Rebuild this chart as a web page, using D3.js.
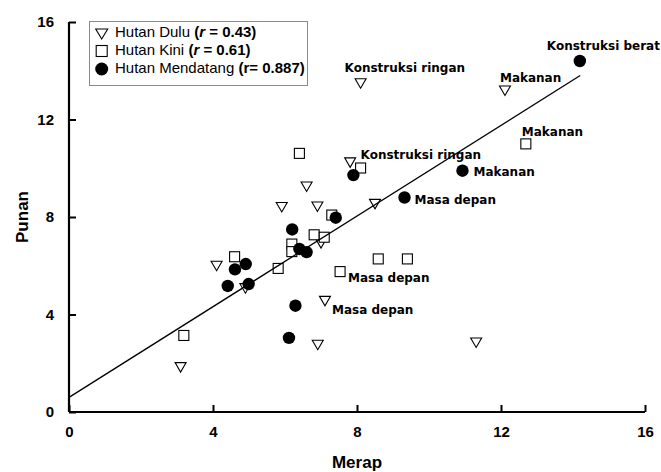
<!DOCTYPE html>
<html>
<head>
<meta charset="utf-8">
<script src="https://cdn.jsdelivr.net/npm/d3@7"></script>
<style>
  html, body { margin: 0; padding: 0; background: #fff; }
  svg { display: block; }
</style>
</head>
<body>
<svg id="chart" width="661" height="472"></svg>
<script>
// ---------------- DATA ----------------
// Hutan Dulu (open down-triangles): [Merap, Punan]
const duluPoints = [
  [3.10, 1.83], [4.10, 5.99], [4.90, 5.07], [5.91, 8.40], [6.60, 9.24],
  [6.90, 8.42], [7.00, 6.92], [7.81, 10.23], [8.10, 13.48], [8.50, 8.53],
  [7.11, 4.55], [6.91, 2.75], [11.31, 2.84], [12.11, 13.18]
];
// Hutan Kini (open squares)
const kiniPoints = [
  [3.19, 3.14], [4.60, 6.37], [5.81, 5.89], [6.19, 6.89], [6.19, 6.58],
  [6.40, 10.61], [6.81, 7.27], [7.09, 7.17], [7.30, 8.08], [8.10, 10.01],
  [7.53, 5.76], [8.59, 6.28], [9.40, 6.28], [12.69, 11.00]
];
// Hutan Mendatang (filled circles)
const mendatangPoints = [
  [14.19, 14.40], [7.90, 9.72], [7.41, 7.97], [9.32, 8.80], [10.93, 9.90],
  [6.20, 7.49], [6.40, 6.69], [6.60, 6.56], [4.91, 6.07], [4.61, 5.85],
  [4.41, 5.17], [4.99, 5.25], [6.29, 4.36], [6.11, 3.04]
];
// Point annotations: [series, point index, text]
const annotations = [
  ["mendatang", 0, "Konstruksi berat"],
  ["dulu", 8, "Konstruksi ringan"],
  ["dulu", 13, "Makanan"],
  ["kini", 13, "Makanan"],
  ["kini", 9, "Konstruksi ringan"],
  ["mendatang", 4, "Makanan"],
  ["mendatang", 3, "Masa depan"],
  ["kini", 10, "Masa depan"],
  ["dulu", 10, "Masa depan"]
];
// Regression line (Hutan Mendatang): [intercept, slope] and x-range
const fitCoef = [0.6, 0.93];
const fitRange = [0, 14.2];
// Axes
const xTicks = [0, 4, 8, 12, 16];
const yTicks = [0, 4, 8, 12, 16];
const xTitle = "Merap";
const yTitle = "Punan";
// Legend
const legendNames = ["Hutan Dulu ", "Hutan Kini ", "Hutan Mendatang "];
const legendStats = [["(", "r", " = 0.43)"], ["(", "r", " = 0.61)"], ["(", "r", "= 0.887)"]];
const legendItalicR = [true, true, false];

// ---------------- STYLE / LAYOUT ----------------
const labelOffsets = [
  [-33, -11], [-16, -11], [-5, -9], [-4, -8], [0, -9],
  [11, 5], [10, 6], [8, 10], [7, 13]
];

const svg = d3.select("#chart");
const x = d3.scaleLinear().domain([0, 16]).range([69, 645]);
const y = d3.scaleLinear().domain([0, 16]).range([412, 22]);

const tickFont = "'Liberation Sans', Arial, sans-serif";
const annFont = "'DejaVu Sans', Verdana, sans-serif";

// Axes
const xAxis = d3.axisBottom(x).tickValues(xTicks).tickSize(-7).tickPadding(14).tickFormat(d3.format("d"));
const yAxis = d3.axisLeft(y).tickValues(yTicks).tickSize(-7).tickPadding(15).tickFormat(d3.format("d"));

const gx = svg.append("g").attr("transform", `translate(0,${y(0)})`).call(xAxis);
const gy = svg.append("g").attr("transform", `translate(${x(0)},0)`).call(yAxis);
[gx, gy].forEach(g => {
  g.select(".domain").attr("stroke", "#000").attr("stroke-width", 2.2);
  g.selectAll(".tick line").attr("stroke", "#000").attr("stroke-width", 2);
  g.selectAll(".tick text")
    .attr("fill", "#000")
    .style("font-family", tickFont)
    .style("font-weight", "bold")
    .style("font-size", "15px");
});
gx.select(".domain").attr("d", `M${x(0)},0H${x(16)}`);
gy.select(".domain").attr("d", `M0,${y(0)}V${y(16)}`);

// Axis titles
svg.append("text")
  .attr("x", (x(0) + x(16)) / 2).attr("y", 468)
  .attr("text-anchor", "middle")
  .style("font-family", tickFont).style("font-weight", "bold").style("font-size", "17px")
  .text(xTitle);
svg.append("text")
  .attr("transform", `translate(28,${(y(0) + y(16)) / 2}) rotate(-90)`)
  .attr("text-anchor", "middle")
  .style("font-family", tickFont).style("font-weight", "bold").style("font-size", "17px")
  .text(yTitle);

// Marker drawing helpers
const triH = 9.5, triW = 11, sq = 10, circR = 6.2;
function triPath(cx, cy, w, h) {
  return `M${cx - w / 2},${cy - h / 2}L${cx + w / 2},${cy - h / 2}L${cx},${cy + h / 2}Z`;
}

const plot = svg.append("g");
plot.selectAll("path.dulu").data(duluPoints).join("path")
  .attr("class", "dulu")
  .attr("d", d => triPath(x(d[0]), y(d[1]), triW, triH))
  .attr("fill", "#fff").attr("stroke", "#000").attr("stroke-width", 1.1);
plot.selectAll("rect.kini").data(kiniPoints).join("rect")
  .attr("class", "kini")
  .attr("x", d => x(d[0]) - sq / 2).attr("y", d => y(d[1]) - sq / 2)
  .attr("width", sq).attr("height", sq)
  .attr("fill", "#fff").attr("stroke", "#000").attr("stroke-width", 1.1);
plot.selectAll("circle.mend").data(mendatangPoints).join("circle")
  .attr("class", "mend")
  .attr("cx", d => x(d[0])).attr("cy", d => y(d[1])).attr("r", circR)
  .attr("fill", "#000");

// Regression line
const line = d3.line().x(d => x(d)).y(d => y(fitCoef[0] + fitCoef[1] * d));
svg.append("path").datum(fitRange).attr("d", line)
  .attr("fill", "none").attr("stroke", "#000").attr("stroke-width", 1.3);

// Annotations
const seriesMap = { dulu: duluPoints, kini: kiniPoints, mendatang: mendatangPoints };
svg.selectAll("text.ann").data(annotations).join("text")
  .attr("class", "ann")
  .attr("x", (d, i) => x(seriesMap[d[0]][d[1]][0]) + labelOffsets[i][0])
  .attr("y", (d, i) => y(seriesMap[d[0]][d[1]][1]) + labelOffsets[i][1])
  .style("font-family", annFont).style("font-weight", "bold").style("font-size", "12px")
  .attr("fill", "#000")
  .text(d => d[2]);

// Legend
const legend = svg.append("g");
legend.append("rect").attr("x", 89.5).attr("y", 21.5).attr("width", 218).attr("height", 64)
  .attr("fill", "#fff").attr("stroke", "#8a8a8a").attr("stroke-width", 1);
const legRowY = [37, 54.5, 72.5];
const symX = 101.7;
legend.append("path").attr("d", triPath(symX, legRowY[0] - 3, 12, 10))
  .attr("fill", "#fff").attr("stroke", "#000").attr("stroke-width", 1.1);
legend.append("rect").attr("x", symX - 5.5).attr("y", legRowY[1] - 3.5 - 5.5).attr("width", 11).attr("height", 11)
  .attr("fill", "#fff").attr("stroke", "#000").attr("stroke-width", 1.1);
legend.append("circle").attr("cx", symX).attr("cy", legRowY[2] - 3.5).attr("r", 6.5).attr("fill", "#000");
legendNames.forEach((name, i) => {
  const t = legend.append("text").attr("x", 115).attr("y", legRowY[i])
    .style("font-family", tickFont).style("font-size", "15px").attr("fill", "#000");
  t.append("tspan").text(name);
  t.append("tspan").style("font-weight", "bold").text(legendStats[i][0]);
  t.append("tspan").style("font-weight", "bold").style("font-style", legendItalicR[i] ? "italic" : "normal").text(legendStats[i][1]);
  t.append("tspan").style("font-weight", "bold").text(legendStats[i][2]);
});
</script>
</body>
</html>
